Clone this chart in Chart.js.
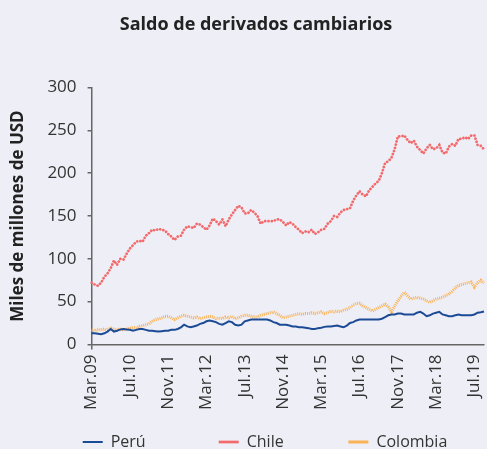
<!DOCTYPE html>
<html>
<head>
<meta charset="utf-8">
<script src="https://cdn.jsdelivr.net/npm/chart.js@4.4.1/dist/chart.umd.min.js"></script>
<style>
  body { margin: 0; background: #eeeef6; }
</style>
</head>
<body>
<canvas id="derivados" width="487" height="449"></canvas>
<script>
// Etiquetas del eje X (una cada 12 observaciones)
const tickLabels = ['Mar.09', 'Jul.10', 'Nov.11', 'Mar.12', 'Jul.13', 'Nov.14', 'Mar.15', 'Jul.16', 'Nov.17', 'Mar.18', 'Jul.19'];
const paso = 12;

// Saldos en miles de millones de USD
const peru = [
  13, 13, 12.5, 12, 13, 15, 18, 15, 16, 17.5,
  18, 17.5, 17, 16, 17, 18, 18, 17, 16, 16,
  15.5, 15, 15.5, 16, 16, 17, 17, 18, 20, 23,
  21, 20, 21, 22, 24, 25, 27, 28, 27, 26,
  24, 23, 25, 27, 26, 23, 22, 23, 27, 28,
  29, 29, 29, 29, 29, 29, 28, 26, 25, 23,
  23, 23, 22, 21, 21, 20, 20, 19.5, 19, 18,
  18, 19, 19.5, 20.5, 21, 21, 21.5, 22, 21, 20,
  22, 25, 26, 28, 29, 29, 29, 29, 29, 29,
  29, 30, 32, 34, 35, 35, 36, 36, 35, 35,
  35, 35, 37, 38, 36, 33, 34, 36, 37, 38,
  35, 34, 33, 33, 34, 35, 34, 34, 34, 34,
  35, 37, 37.5, 38.5
];
const chile = [
  72, 70, 68.5, 72, 79, 83, 89, 98, 93, 100,
  99, 106, 112, 116, 120, 121, 120, 127, 130, 134,
  133, 135, 134, 133, 129, 126, 122, 126, 127, 134,
  138, 137, 136, 141, 140, 137, 134, 139, 147, 144,
  140, 146, 138, 146, 152, 157, 162, 160, 153, 153,
  157, 154, 150, 141, 144, 144, 144, 144, 146, 146,
  143, 139, 143, 141, 137, 134, 130, 132, 131, 134,
  129, 131, 134, 135, 141, 144, 150, 149, 154, 157,
  158, 159, 168, 174, 179, 175, 173, 180, 184, 188,
  191, 200, 212, 214, 218, 228, 243, 243, 244, 239,
  235, 238, 231, 227, 223, 229, 233, 228, 229, 233,
  224, 223, 231, 234, 232, 240, 240, 242, 240, 244,
  244, 233, 232, 228
];
const colombia = [
  17, 16, 17, 17, 18, 17, 19, 18, 17, 18,
  17, 18, 19, 20, 19, 21, 22, 23, 24, 27,
  29, 30, 31, 33, 33, 31, 29, 31, 33, 34,
  33, 32, 31, 32, 30, 31, 32, 33, 32, 30,
  31, 30, 32, 31, 33, 30, 31, 33, 34, 34,
  33, 32, 32, 34, 35, 36, 37, 38, 36, 34,
  31, 32, 33, 34, 35, 36, 35, 36, 36, 37,
  36, 37, 38, 36, 37, 39, 38, 39, 38, 40,
  41, 43, 46, 48, 48, 45, 43, 41, 39, 41,
  43, 45, 47, 44, 38, 45, 51, 56, 61, 57,
  53, 54, 55, 54, 53, 51, 49, 51, 53, 54,
  55, 57, 59, 62, 66, 69, 70, 71, 72, 73,
  67, 72, 75, 71.5
];
const categorias = chile.map((v, i) => i);

// espacios al final para separar las columnas de la leyenda
const relleno = [13, 11, 0];

Chart.defaults.font.family = "'Open Sans', sans-serif";
Chart.defaults.color = '#333';

// corre la leyenda un poco a la derecha, como en el original
const moverLeyenda = {
  id: 'moverLeyenda',
  afterLayout(c) {
    c.legend.left += 9;
    c.legend.right += 9;
  }
};

const ctx = document.querySelector('#derivados').getContext('2d');
const chart = new Chart(ctx, {
  type: 'line',
  data: {
    labels: categorias,
    datasets: [{
      label: 'Perú',
      data: peru,
      borderColor: '#1c4b96',
      borderWidth: 2,
      pointRadius: 0,
      tension: 0
    }, {
      label: 'Chile',
      data: chile,
      borderColor: '#f26a6c',
      borderWidth: 2.7,
      borderDash: [0.1, 3.2],
      borderCapStyle: 'round',
      pointRadius: 0,
      tension: 0
    }, {
      label: 'Colombia',
      data: colombia,
      borderColor: '#fab257',
      borderWidth: 3,
      borderDash: [1, 1],
      pointRadius: 0,
      tension: 0
    }]
  },
  options: {
    responsive: false,
    animation: false,
    layout: { padding: { left: 28, right: 3, top: 0, bottom: -11 } },
    plugins: {
      title: {
        display: true,
        text: 'Saldo de derivados cambiarios',
        color: '#222',
        font: { size: 18, weight: 'bold' },
        padding: { top: 14, bottom: 52 }
      },
      legend: {
        position: 'bottom',
        labels: {
          usePointStyle: true,
          pointStyle: 'line',
          pointStyleWidth: 20,
          padding: 19,
          color: '#333',
          font: { size: 16 },
          generateLabels: function(c) {
            return Chart.defaults.plugins.legend.labels.generateLabels(c).map(function(it, i) {
              it.text = it.text + ' '.repeat(relleno[i]);
              return it;
            });
          }
        }
      },
      tooltip: { enabled: false }
    },
    scales: {
      x: {
        // margen derecho pequeño, la ultima etiqueta cabe igual
        afterFit: s => { s.paddingRight = 3; },
        border: { color: '#666', width: 1.5 },
        grid: {
          drawOnChartArea: false,
          tickLength: 5,
          lineWidth: 1.5,
          color: c => (c.index % paso === 0 ? '#666' : 'rgba(0,0,0,0)')
        },
        ticks: {
          autoSkip: false,
          maxRotation: 90,
          minRotation: 90,
          padding: 5,
          font: { size: 17 },
          callback: (v, i) => (i % paso === 0 ? tickLabels[i / paso] : null)
        }
      },
      y: {
        min: 0,
        max: 300,
        border: { color: '#666', width: 1.5 },
        grid: { drawOnChartArea: false, tickLength: 4, color: '#666', lineWidth: 1.5 },
        ticks: { stepSize: 50, padding: 11, font: { size: 17 } },
        title: {
          display: true,
          text: 'Miles de millones de USD',
          color: '#222',
          font: { size: 17, weight: 'bold' },
          padding: { top: -20, bottom: 8 }
        }
      }
    }
  },
  plugins: [moverLeyenda]
});
</script>
</body>
</html>
